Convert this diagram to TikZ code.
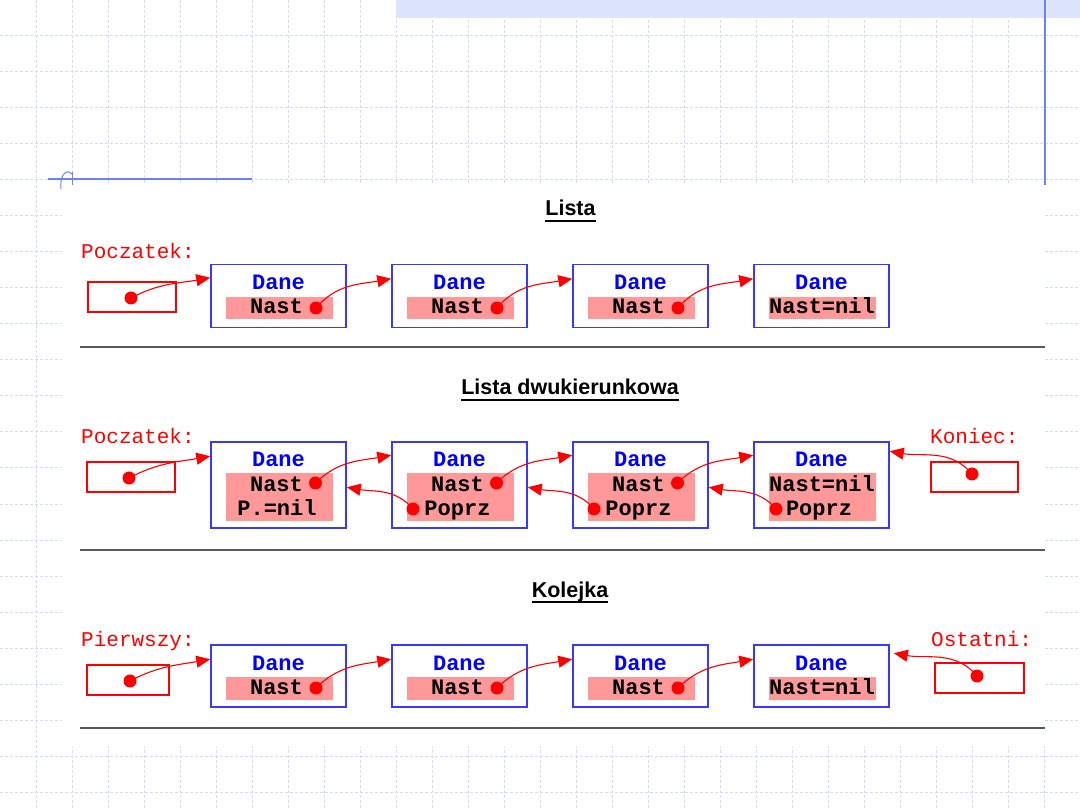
\documentclass[tikz,border=0pt]{standalone}
\usepackage{fontspec}
\setmainfont{Liberation Sans}
\newfontfamily\lmono{Liberation Mono}
\usetikzlibrary{arrows.meta,calc}
\definecolor{gridblue}{HTML}{D2DCFA}
\definecolor{bandblue}{HTML}{DCE5FC}
\definecolor{slideblue}{HTML}{6A84EE}
\definecolor{boxblue}{HTML}{3838FF}
\definecolor{danecol}{HTML}{0000FF}
\definecolor{pinkfill}{HTML}{FF9999}
\definecolor{sepgray}{HTML}{5A5A5A}
\tikzset{
  gridline/.style={gridblue, line width=1pt, dash pattern=on 3pt off 2pt},
  listbox/.style={draw=boxblue, line width=1.5pt, minimum width=135pt, inner sep=0pt, fill=white},
  ptrbox/.style={draw=red, line width=1.4pt, inner sep=0pt, fill=white},
  pinkbox/.style={fill=pinkfill, inner sep=0pt, minimum width=107pt},
  reddot/.style={circle, fill=red, minimum size=13pt, inner sep=0pt},
  danetxt/.style={text=danecol, font=\lmono\bfseries\fontsize{22}{22}\selectfont, inner sep=0pt, text height=12pt, text depth=0pt},
  fldtxt/.style={text=black, font=\lmono\bfseries\fontsize{22}{22}\selectfont, inner sep=0pt, text height=12pt, text depth=0pt},
  lbltxt/.style={text=red, font=\lmono\fontsize{21}{21}\selectfont, inner sep=0pt, anchor=west, text height=12pt, text depth=0pt},
  titletxt/.style={font=\bfseries\fontsize{21.5}{21.5}\selectfont, inner sep=0pt, anchor=base},
  ptr/.style={red, line width=1.1pt, -{Triangle[length=14pt,width=12pt]}},
  sepline/.style={sepgray, line width=2pt},
  uline/.style={black, line width=2pt}
}
\begin{document}
\begin{tikzpicture}[x=1pt,y=-1pt]
\useasboundingbox (0,0) rectangle (1080,810);
% slide background grid
\foreach \i in {1,...,29} {\draw[gridline] (36*\i,0) -- (36*\i,810);}
\foreach \i in {1,...,22} {\draw[gridline] (0,36*\i) -- (1080,36*\i);}
\fill[bandblue] (396,0) rectangle (1080,18);
\draw[slideblue, line width=2pt] (1045,0) -- (1045,185);
\draw[slideblue, line width=1.5pt] (48,179) -- (252,179);
\draw[slideblue, line width=1pt] (61,189) .. controls (59,172) and (69,169) .. (72,174);
\draw[slideblue, line width=1pt] (72,172) -- (72,190);
\draw[slideblue, line width=1pt] (82,185) -- (81,189);
% white panel
\fill[white] (62,185) rectangle (1045,747);

% ---------- Row 1: Lista ----------
\node[titletxt] (t1) at (570.5,216) {Lista};
\draw[uline] ($(t1.base west)+(0,5)$) -- ($(t1.base east)+(0,5)$);
\node[lbltxt] (l1) at (81,253) {Poczatek:};
\node[ptrbox, minimum width=88pt, minimum height=30pt] (pa) at (132,297) {};
\node[reddot] (pad) at (131,298) {};
\foreach \c in {1,2,3,4} {
  \pgfmathsetmacro\cx{278.5+181*(\c-1)}
  \node[listbox, minimum height=63pt] (a\c) at (\cx,296) {};
  \node[danetxt] (ad\c) at (\cx,284) {Dane};
  \node[pinkbox, minimum height=22pt] (ap\c) at (\cx+1,308) {};
}
\foreach \c in {1,2,3} {
  \pgfmathsetmacro\cx{278.5+181*(\c-1)}
  \node[fldtxt] (an\c) at (\cx-2,308) {Nast};
  \node[reddot] (adot\c) at (\cx+37.5,308) {};
}
\node[fldtxt] (an4) at (822,308) {Nast=nil};
\draw[ptr] (pad.center) to[out=28,in=190] ($(a1.north west)+(0,14)$);
\draw[ptr] (adot1.center) to[out=50,in=190] ($(a2.north west)+(0,15)$);
\draw[ptr] (adot2.center) to[out=50,in=190] ($(a3.north west)+(0,15)$);
\draw[ptr] (adot3.center) to[out=50,in=190] ($(a4.north west)+(0,15)$);
\draw[sepline] (80,347) -- (1045,347);

% ---------- Row 2: Lista dwukierunkowa ----------
\node[titletxt] (t2) at (570,395) {Lista dwukierunkowa};
\draw[uline] ($(t2.base west)+(0,5)$) -- ($(t2.base east)+(0,5)$);
\node[lbltxt] (l2) at (81,437) {Poczatek:};
\node[lbltxt] (l2b) at (930,437) {Koniec:};
\node[ptrbox, minimum width=88pt, minimum height=30pt] (pb) at (131,477) {};
\node[reddot] (pbd) at (129,478) {};
\node[ptrbox, minimum width=87pt, minimum height=30pt] (pk) at (974.5,477) {};
\node[reddot] (pkd) at (972,474) {};
\foreach \c in {1,2,3,4} {
  \pgfmathsetmacro\cx{278.5+181*(\c-1)}
  \node[listbox, minimum height=86pt] (b\c) at (\cx,485) {};
  \node[danetxt] (bd\c) at (\cx,461) {Dane};
  \node[pinkbox, minimum height=48pt] (bp\c) at (\cx+1,497) {};
}
\foreach \c in {1,2,3} {
  \pgfmathsetmacro\cx{278.5+181*(\c-1)}
  \node[fldtxt] (bn\c) at (\cx-2,485) {Nast};
  \node[reddot] (bdot\c) at (\cx+37,483) {};
}
\node[fldtxt] (bnil) at (277,509) {P.=nil};
\foreach \c in {2,3} {
  \pgfmathsetmacro\cx{278.5+181*(\c-1)}
  \node[fldtxt] (bq\c) at (\cx-2,509) {Poprz};
  \node[reddot] (bpd\c) at (\cx-46.5,509) {};
}
\node[fldtxt] (bn4) at (822,485) {Nast=nil};
\node[fldtxt] (bq4) at (819,509) {Poprz};
\node[reddot] (bpd4) at (776,509) {};
\draw[ptr] (pbd.center) to[out=28,in=190] ($(b1.north west)+(0,15)$);
\draw[ptr] (bdot1.center) to[out=45,in=190] ($(b2.north west)+(0,14)$);
\draw[ptr] (bdot2.center) to[out=45,in=190] ($(b3.north west)+(0,14)$);
\draw[ptr] (bdot3.center) to[out=45,in=190] ($(b4.north west)+(0,14)$);
\draw[ptr] (bpd2.center) to[out=130,in=-10] ($(b1.north east)+(0,46)$);
\draw[ptr] (bpd3.center) to[out=130,in=-10] ($(b2.north east)+(0,46)$);
\draw[ptr] (bpd4.center) to[out=130,in=-10] ($(b3.north east)+(0,46)$);
\draw[ptr] (pkd.center) to[out=130,in=-10] ($(b4.north east)+(0,10)$);
\draw[sepline] (80,550) -- (1045,550);

% ---------- Row 3: Kolejka ----------
\node[titletxt] (t3) at (570,597) {Kolejka};
\draw[uline] ($(t3.base west)+(0,5)$) -- ($(t3.base east)+(0,5)$);
\node[lbltxt] (l3) at (81,640) {Pierwszy:};
\node[lbltxt] (l3b) at (931,640) {Ostatni:};
\node[ptrbox, minimum width=82pt, minimum height=30pt] (pc) at (128,680) {};
\node[reddot] (pcd) at (130,681) {};
\node[ptrbox, minimum width=89pt, minimum height=30pt] (po) at (979.5,678) {};
\node[reddot] (pod) at (977,676) {};
\foreach \c in {1,2,3,4} {
  \pgfmathsetmacro\cx{278.5+181*(\c-1)}
  \node[listbox, minimum height=62pt] (c\c) at (\cx,676) {};
  \node[danetxt] (cd\c) at (\cx,664) {Dane};
  \node[pinkbox, minimum height=23pt] (cp\c) at (\cx+1,688.5) {};
}
\foreach \c in {1,2,3} {
  \pgfmathsetmacro\cx{278.5+181*(\c-1)}
  \node[fldtxt] (cn\c) at (\cx-2,688) {Nast};
  \node[reddot] (cdot\c) at (\cx+37.5,688) {};
}
\node[fldtxt] (cn4) at (822,688) {Nast=nil};
\draw[ptr] (pcd.center) to[out=28,in=190] ($(c1.north west)+(0,15)$);
\draw[ptr] (cdot1.center) to[out=45,in=190] ($(c2.north west)+(0,15)$);
\draw[ptr] (cdot2.center) to[out=45,in=190] ($(c3.north west)+(0,15)$);
\draw[ptr] (cdot3.center) to[out=45,in=190] ($(c4.north west)+(0,15)$);
\draw[ptr] (pod.center) to[out=130,in=-10] ($(c4.north east)+(4,9)$);
\draw[sepline] (80,728) -- (1045,728);
\end{tikzpicture}
\end{document}
